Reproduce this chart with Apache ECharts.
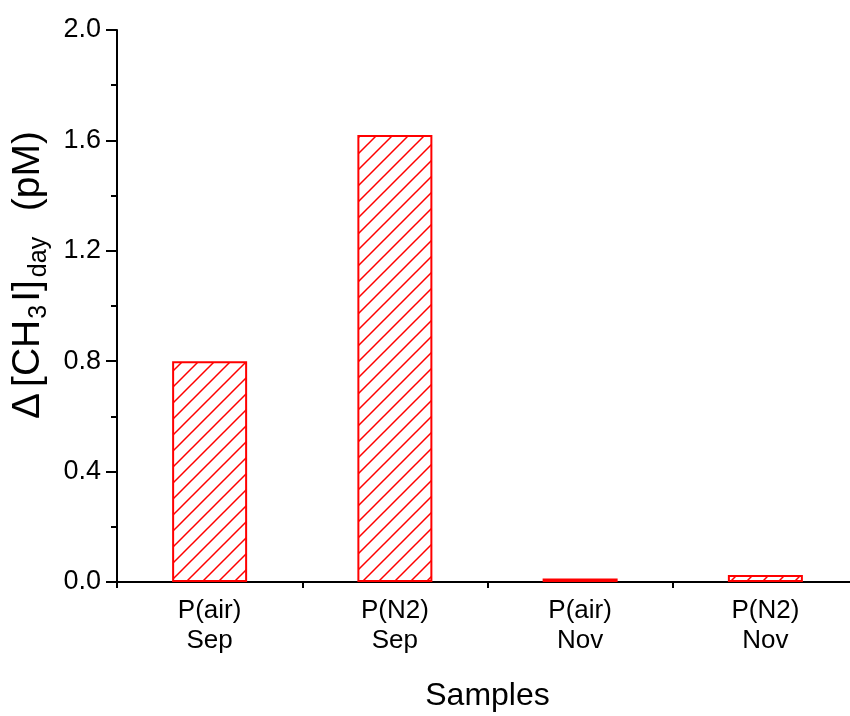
<!DOCTYPE html>
<html>
<head>
<meta charset="utf-8">
<script src="https://cdn.jsdelivr.net/npm/echarts@6/dist/echarts.min.js"></script>
<style>
html,body{margin:0;padding:0;background:#fff;}
#chart{width:850px;height:716px;}
</style>
</head>
<body>
<div id="chart"></div>
<script>
// Data
const categories = ['P(air)\nSep', 'P(N2)\nSep', 'P(air)\nNov', 'P(N2)\nNov'];
const values = [0.80, 1.62, 0.013, 0.025];
const yMin = 0, yMax = 2.0, yInterval = 0.4;
const xAxisTitle = 'Samples';

const FONT = '"Liberation Sans", Arial, Helvetica, sans-serif';

function makeHatch() {
  const s = 16;
  const c = document.createElement('canvas');
  c.width = s; c.height = s;
  const ctx = c.getContext('2d');
  ctx.fillStyle = '#ffffff';
  ctx.fillRect(0, 0, s, s);
  ctx.strokeStyle = '#ff0000';
  ctx.lineWidth = 1.5;
  ctx.beginPath();
  ctx.moveTo(-2, s + 2); ctx.lineTo(s + 2, -2);
  ctx.moveTo(s - 2, s + 2); ctx.lineTo(s + 2, s - 2);
  ctx.moveTo(-2, 2); ctx.lineTo(2, -2);
  ctx.stroke();
  return c;
}

const chart = echarts.init(document.getElementById('chart'), null, {renderer: 'canvas'});
const option = {
  animation: false,
  backgroundColor: '#ffffff',
  grid: {left: 117, top: 30, bottom: 134, width: 741, containLabel: false, outerBoundsMode: 'none'},
  xAxis: [
    {
      type: 'category',
      data: categories,
      position: 'bottom',
      name: xAxisTitle,
      nameLocation: 'middle',
      nameGap: 98,
      nameTextStyle: {fontFamily: FONT, fontSize: 32, color: '#000'},
      axisLine: {lineStyle: {color: '#000', width: 2}},
      axisTick: {alignWithLabel: true, length: 10, lineStyle: {color: '#000', width: 2}},
      axisLabel: {fontFamily: FONT, fontSize: 26, lineHeight: 30, color: '#000', margin: 14, interval: 0},
      splitLine: {show: false}
    },
    {
      type: 'category',
      data: categories,
      position: 'bottom',
      axisLine: {show: false},
      axisTick: {show: true, alignWithLabel: false, length: 6, lineStyle: {color: '#000', width: 2}},
      axisLabel: {show: false},
      splitLine: {show: false}
    }
  ],
  yAxis: {
    type: 'value',
    min: yMin, max: yMax, interval: yInterval,
    axisLine: {show: true, lineStyle: {color: '#000', width: 2}},
    axisTick: {show: true, length: 11, lineStyle: {color: '#000', width: 2}},
    minorTick: {show: true, splitNumber: 2, length: 6, lineStyle: {color: '#000', width: 2}},
    axisLabel: {fontFamily: FONT, fontSize: 27, color: '#000', margin: 16,
      formatter: v => v.toFixed(1)},
    splitLine: {show: false}
  },
  series: [{
    type: 'bar',
    data: values,
    barWidth: 75,
    xAxisIndex: 0,
    itemStyle: {
      color: {image: makeHatch(), repeat: 'repeat'},
      borderColor: '#ff0000',
      borderWidth: 2
    }
  }],
  graphic: [{
    type: 'text',
    x: 28, y: 275,
    rotation: Math.PI / 2,
    style: {
      text: '{d|Δ}{m|[CH}{s3|3}{m|I]}{sd|day}{m|  (pM)}',
      align: 'center',
      verticalAlign: 'middle',
      fill: '#000',
      rich: {
        d: {fontFamily: FONT, fontSize: 39, lineHeight: 46, fill: '#000', verticalAlign: 'middle', padding: [0, 6, 0, 0]},
        m: {fontFamily: FONT, fontSize: 39, lineHeight: 46, fill: '#000', verticalAlign: 'middle'},
        s3: {fontFamily: FONT, fontSize: 25, lineHeight: 24, fill: '#000', padding: [22, 3, 0, 1], verticalAlign: 'middle'},
        sd: {fontFamily: FONT, fontSize: 25, lineHeight: 24, fill: '#000', padding: [22, 4, 0, 3], verticalAlign: 'middle'}
      }
    }
  }]
};
chart.setOption(option);
</script>
</body>
</html>
